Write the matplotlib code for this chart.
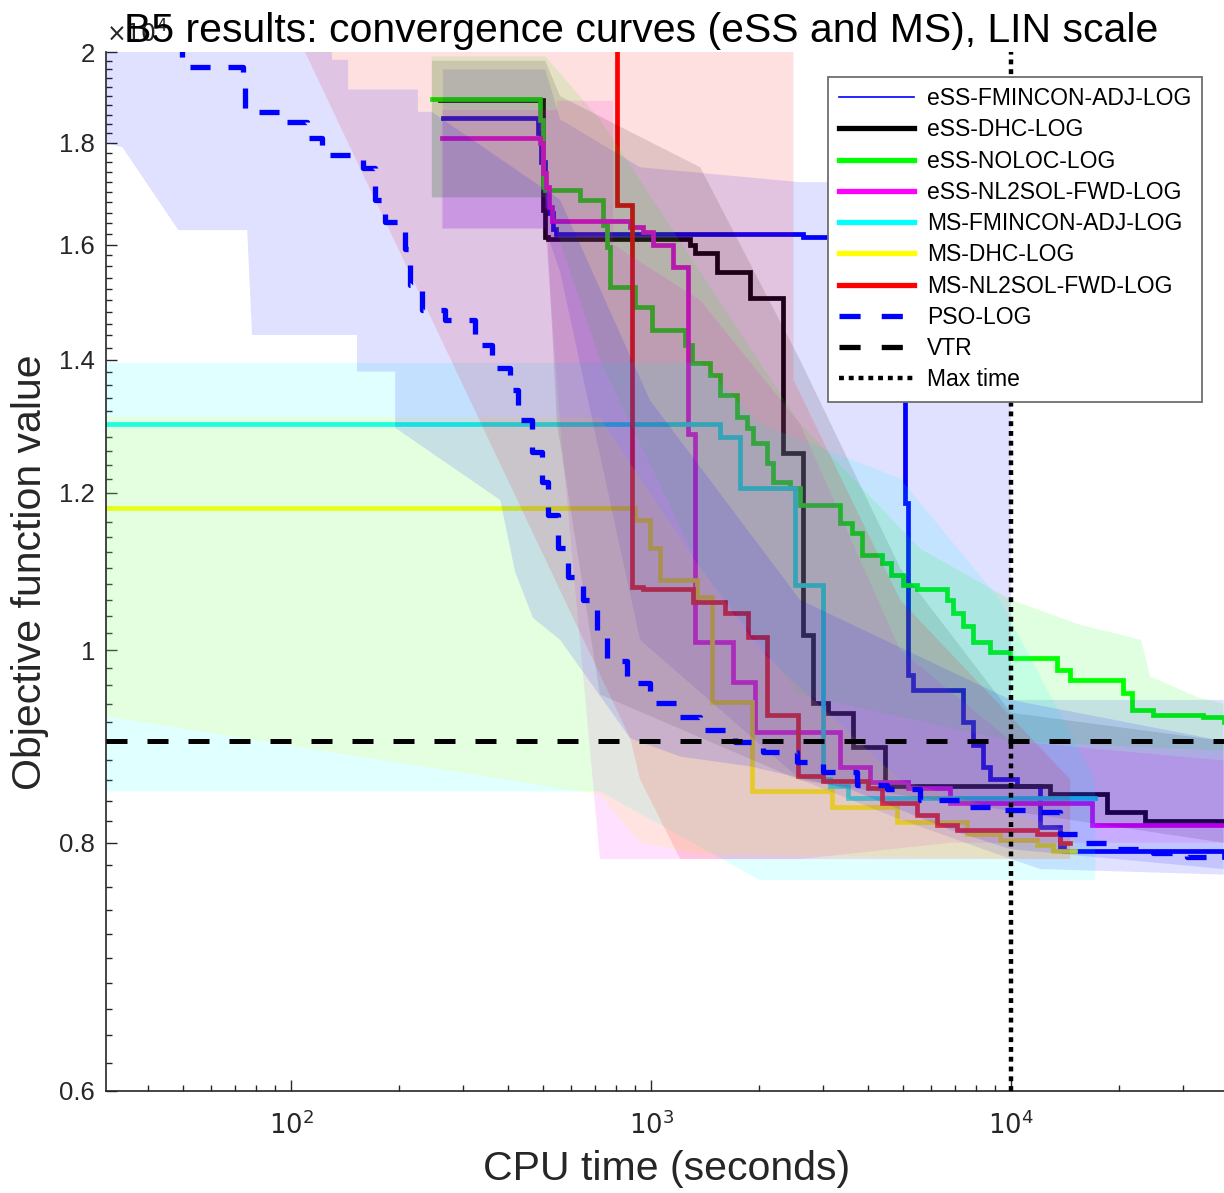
import numpy as np
import matplotlib
matplotlib.use("Agg")
import matplotlib.pyplot as plt
from matplotlib.lines import Line2D
from matplotlib.ticker import FixedLocator, FixedFormatter, LogLocator, NullFormatter

plt.rcParams['font.family'] = ['Liberation Sans', 'DejaVu Sans']

# Objective values are stored in units of 1e4 (as on the y axis)
SCALE = 1e4

# ---- convergence curves (CPU time in s, objective value / 1e4) ----
ess_fmincon_t = [264, 485, 495, 508, 518, 535, 545, 2643, 5080, 5176, 5345, 7360, 7840,
                 8360, 8750, 10400, 12050, 13700, 14000, 39000]
ess_fmincon_f = [1.852, 1.82, 1.76, 1.705, 1.66, 1.63, 1.62, 1.615, 1.186, 0.972, 0.955,
                 0.920, 0.896, 0.873, 0.861, 0.854, 0.815, 0.796, 0.792, 0.787]

ess_dhc_t = [259, 501, 508, 518, 1284, 1326, 1524, 1884, 2327, 2643, 2818, 3100, 3640,
             4466, 12830, 18500, 23550, 39000]
ess_dhc_f = [1.891, 1.665, 1.614, 1.61, 1.599, 1.585, 1.550, 1.504, 1.257, 1.018, 0.941,
             0.930, 0.894, 0.854, 0.846, 0.829, 0.820, 0.820]

ess_noloc_t = [246, 492, 501, 508, 635, 736, 755, 770, 903, 1007, 1243, 1300, 1459, 1555,
               1734, 1849, 1920, 2099, 2183, 2432, 2592, 3350, 3612, 3853, 4383, 4637,
               5011, 5483, 6642, 6900, 7360, 7840, 8750, 9940, 13430, 14600, 20450,
               21660, 24790, 34130, 39000]
ess_noloc_f = [1.894, 1.848, 1.711, 1.705, 1.685, 1.637, 1.596, 1.523, 1.488, 1.449, 1.424,
               1.395, 1.376, 1.344, 1.310, 1.294, 1.271, 1.242, 1.215, 1.207, 1.183, 1.159,
               1.146, 1.117, 1.106, 1.091, 1.079, 1.073, 1.060, 1.044, 1.028, 1.010, 0.998,
               0.991, 0.977, 0.966, 0.952, 0.933, 0.928, 0.925, 0.920]

ess_nl2sol_t = [262, 492, 501, 511, 521, 531, 875, 950, 1013, 1152, 1267, 1325, 1690, 1945,
                3350, 4055, 5172, 6780, 16800, 39000]
ess_nl2sol_f = [1.810, 1.800, 1.739, 1.711, 1.671, 1.644, 1.633, 1.624, 1.600, 1.559, 1.284,
                1.009, 0.964, 0.910, 0.873, 0.858, 0.852, 0.838, 0.817, 0.817]

ms_fmincon_t = [30.6, 1555, 1767, 2512, 3005, 3139, 3525, 17100]
ms_fmincon_f = [1.300, 1.280, 1.207, 1.079, 0.861, 0.854, 0.843, 0.843]

ms_dhc_t = [30.6, 903, 993, 1059, 1343, 1476, 1908, 3186, 4820, 7550, 9310, 11800, 13080, 15060]
ms_dhc_f = [1.179, 1.163, 1.126, 1.085, 1.063, 0.942, 0.849, 0.834, 0.819, 0.808, 0.803,
            0.798, 0.792, 0.792]

ms_nl2sol_t = [805, 806, 885, 950, 1309, 1606, 1859, 2099, 2560, 3005, 4010, 4383, 5483,
               6230, 7080, 11800, 13700, 14600]
ms_nl2sol_f = [2.4, 1.675, 1.076, 1.073, 1.058, 1.044, 1.015, 0.928, 0.864, 0.859, 0.852,
               0.838, 0.826, 0.817, 0.812, 0.808, 0.800, 0.800]

pso_t = [46.1, 49.8, 73.5, 74.5, 96.2, 110.8, 121.9, 158.5, 171.1, 182.4, 207.4, 214.1,
         231.1, 267.8, 324.4, 361.7, 405.9, 427.2, 467.2, 498.1, 517.6, 551.8, 588.1, 647.4,
         707.9, 755.0, 857.7, 993.6, 1181, 1368, 1711, 2047, 2545, 3005, 3735, 4525, 5590,
         7215, 9146, 11080, 13680, 15850, 19700, 24800, 30800, 39000]
pso_f = [2.2, 1.966, 1.925, 1.866, 1.845, 1.811, 1.774, 1.749, 1.685, 1.643, 1.591, 1.527,
         1.483, 1.466, 1.424, 1.387, 1.352, 1.306, 1.258, 1.215, 1.170, 1.126, 1.089, 1.060,
         1.020, 0.987, 0.963, 0.941, 0.926, 0.912, 0.899, 0.889, 0.878, 0.868, 0.855, 0.851,
         0.841, 0.834, 0.831, 0.829, 0.808, 0.800, 0.794, 0.791, 0.787, 0.787]

vtr_value = 0.9
max_time = 1e4

# ---- min/max envelopes over runs: (upper x, upper y, lower x, lower y) ----
band_ess_fmincon = ([264, 508, 559, 932, 2592, 10000, 10000, 39000],
                    [1.96, 1.96, 1.85, 1.75, 1.72, 1.72, 0.944, 0.944],
                    [264, 508, 559, 932, 2592, 4920, 10000, 12050, 39000],
                    [1.63, 1.63, 1.55, 1.012, 0.861, 0.822, 0.785, 0.776, 0.771])
band_ess_dhc = ([246, 508, 559, 1369, 2592, 4920, 10000, 39000],
                [1.98, 1.98, 1.90, 1.75, 1.40, 1.10, 0.93, 0.90],
                [246, 508, 548, 721, 2592, 10000, 39000],
                [1.69, 1.69, 1.30, 0.95, 0.86, 0.83, 0.80])
band_ess_noloc = ([246, 508, 721, 1369, 2592, 5590, 10000, 15550, 23000, 24330, 33000, 39000],
                  [1.99, 1.99, 1.85, 1.55, 1.30, 1.125, 1.06, 1.03, 1.012, 0.97, 0.947, 0.94],
                  [246, 508, 721, 1369, 2592, 10000, 39000],
                  [1.69, 1.69, 1.40, 1.10, 0.95, 0.90, 0.89])
band_ess_nl2sol = ([262, 548, 548, 784, 784, 1369, 2592, 4920, 10000, 39000],
                   [1.87, 1.87, 1.89, 1.89, 1.60, 1.50, 1.30, 1.0, 0.9, 0.88],
                   [262, 508, 559, 721, 2592, 6780, 39000],
                   [1.63, 1.63, 1.30, 0.785, 0.785, 0.80, 0.80])
band_ms_fmincon = ([30.6, 1369, 2009, 4920, 9310, 17140],
                   [1.395, 1.395, 1.30, 1.22, 1.06, 0.86],
                   [30.6, 721, 2009, 17140],
                   [0.849, 0.849, 0.766, 0.766])
band_ms_dhc = ([30.6, 721, 932, 1369, 2009, 4920, 15060],
               [1.31, 1.31, 1.22, 1.10, 1.0, 0.86, 0.81],
               [30.6, 721, 932, 1369, 15060],
               [0.926, 0.846, 0.80, 0.79, 0.785])
band_ms_nl2sol = ([96.2, 2486, 2486, 4920, 14600],
                  [2.1, 2.1, 1.368, 1.06, 0.861],
                  [96.2, 875, 932, 1205, 14600],
                  [2.1, 0.903, 0.861, 0.785, 0.785])
band_pso = ([30.6, 128, 130, 144, 144, 225, 225, 246, 559, 993, 2592, 10000, 39000],
            [2.1, 2.1, 1.982, 1.982, 1.915, 1.915, 1.866, 1.866, 1.685, 1.336, 1.06, 0.944, 0.90],
            [30.6, 34, 48.6, 75.5, 77.9, 152.5, 152.5, 194.5, 194.5, 381, 419, 470, 559, 875,
             1205, 1884, 3570, 6780, 10000, 39000],
            [1.80, 1.791, 1.627, 1.627, 1.441, 1.441, 1.381, 1.381, 1.294, 1.19, 1.095, 1.038,
             1.012, 0.903, 0.884, 0.874, 0.851, 0.812, 0.794, 0.776])

series = [
    ("eSS-FMINCON-ADJ-LOG", ess_fmincon_t, ess_fmincon_f, band_ess_fmincon, (0, 0, 1)),
    ("eSS-DHC-LOG", ess_dhc_t, ess_dhc_f, band_ess_dhc, (0, 0, 0)),
    ("eSS-NOLOC-LOG", ess_noloc_t, ess_noloc_f, band_ess_noloc, (0, 1, 0)),
    ("eSS-NL2SOL-FWD-LOG", ess_nl2sol_t, ess_nl2sol_f, band_ess_nl2sol, (1, 0, 1)),
    ("MS-FMINCON-ADJ-LOG", ms_fmincon_t, ms_fmincon_f, band_ms_fmincon, (0, 1, 1)),
    ("MS-DHC-LOG", ms_dhc_t, ms_dhc_f, band_ms_dhc, (1, 1, 0)),
    ("MS-NL2SOL-FWD-LOG", ms_nl2sol_t, ms_nl2sol_f, band_ms_nl2sol, (1, 0, 0)),
]

ytick_vals = [0.6, 0.8, 1.0, 1.2, 1.4, 1.6, 1.8, 2.0]
ytick_labels = ["0.6", "0.8", "1", "1.2", "1.4", "1.6", "1.8", "2"]
xtick_vals = [1e2, 1e3, 1e4]
xtick_labels = [r"$10^{2}$", r"$10^{3}$", r"$10^{4}$"]

W, H = 1224, 1193
fig = plt.figure(figsize=(W / 100, H / 100), dpi=100)
ax = fig.add_axes([106 / W, 1 - 1091 / H, 1 - 106 / W, (1091 - 52) / H])
ax.set_xscale('log')
ax.set_yscale('log')

axis_col = '#262626'

# solid step curves
for name, t, f, band, col in series:
    ax.plot(t, np.array(f) * SCALE, drawstyle='steps-post', color=col, lw=3.4,
            zorder=2, solid_joinstyle='miter')

# shaded envelopes (drawn over the curves, as in the original figure)
def draw_band(band, col):
    ux, uy, lx, ly = band
    xs = np.concatenate([ux, lx[::-1]])
    ys = np.concatenate([uy, ly[::-1]]) * SCALE
    ax.fill(xs, ys, color=col, alpha=0.12, lw=0, zorder=2.5)

for name, t, f, band, col in series:
    draw_band(band, col)
draw_band(band_pso, (0, 0, 1))

# PSO dashed step curve
ax.plot(pso_t, np.array(pso_f) * SCALE, drawstyle='steps-post', color=(0, 0, 1), lw=3.8,
        dashes=(3.8, 3.4), zorder=3)

# VTR and max time
ax.axhline(vtr_value * SCALE, color='k', lw=3.6, dashes=(4.2, 4.0), zorder=3.2)
ax.axvline(max_time, color='k', lw=3.2, dashes=(1.1, 1.1), zorder=3.2)

ax.set_xlim(30.6, 39060)
ax.set_ylim(0.6 * SCALE, 2.0 * SCALE)

# ticks
ax.yaxis.set_major_locator(FixedLocator([v * SCALE for v in ytick_vals]))
ax.yaxis.set_major_formatter(FixedFormatter(ytick_labels))
ax.yaxis.set_minor_locator(FixedLocator([v * 200 for v in range(30, 101)]))
ax.yaxis.set_minor_formatter(NullFormatter())
ax.xaxis.set_major_locator(FixedLocator(xtick_vals))
ax.xaxis.set_major_formatter(FixedFormatter(xtick_labels))
ax.xaxis.set_minor_locator(LogLocator(base=10, subs=np.arange(2, 10)))
ax.xaxis.set_minor_formatter(NullFormatter())
ax.tick_params(which='both', direction='in', colors=axis_col, width=1.0)
ax.tick_params(which='major', length=8, labelsize=18.5, pad=8)
ax.tick_params(which='minor', length=4.5)
ax.tick_params(axis='x', which='major', pad=14)

for s in ['top', 'right']:
    ax.spines[s].set_visible(False)
for s in ['left', 'bottom']:
    ax.spines[s].set_color(axis_col)
    ax.spines[s].set_linewidth(1.2)

ax.text(0.0, 1.004, r'$\times10^{4}$', transform=ax.transAxes, ha='left', va='bottom',
        fontsize=17, color=axis_col)

fig.text(641 / W, 1 - 42 / H, "B5 results: convergence curves (eSS and MS), LIN scale",
         ha='center', va='baseline', fontsize=29.5, color='k')
fig.text(667 / W, 1 - 1180 / H, "CPU time (seconds)", ha='center', va='baseline',
         fontsize=29.5, color=axis_col)
fig.text(30 / W, 1 - 572 / H, "Objective function value", ha='center', va='center',
         rotation=90, fontsize=29.5, color=axis_col)

# legend
handles = [Line2D([], [], color=(0, 0, 1), lw=1.2)]
for name, t, f, band, col in series[1:]:
    handles.append(Line2D([], [], color=col, lw=3.8))
handles.append(Line2D([], [], color=(0, 0, 1), lw=3.8, dashes=(4, 4)))
handles.append(Line2D([], [], color='k', lw=3.8, dashes=(4, 4)))
handles.append(Line2D([], [], color='k', lw=3.2, dashes=(1.1, 1.1)))
labels = [s[0] for s in series] + ["PSO-LOG", "VTR", "Max time"]
leg = ax.legend(handles, labels, loc='upper right', bbox_to_anchor=(0.980, 0.976),
                fontsize=16.5, frameon=True, fancybox=False, framealpha=1,
                edgecolor='#6e6e6e', handlelength=3.3, handletextpad=0.55,
                labelspacing=0.36, borderpad=0.45, borderaxespad=0)
leg.get_frame().set_linewidth(1.3)
leg.set_zorder(10)

fig.savefig("out.png", dpi=100)
